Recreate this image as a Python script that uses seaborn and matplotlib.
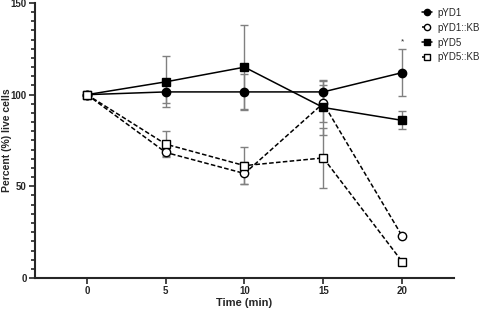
import matplotlib
matplotlib.use("Agg")
import matplotlib.pyplot as plt
import seaborn as sns
import pandas as pd
import numpy as np
from matplotlib.ticker import MultipleLocator
from matplotlib.lines import Line2D

time = [0, 5, 10, 15, 20]
series_names = ["pYD1", "pYD1::KB", "pYD5", "pYD5::KB"]
pYD1 = [100, 101.5, 101.5, 101.5, 112]
pYD1_err = [0, 6, 10, 6, 13]
pYD1_KB = [100, 68.5, 57, 95.3, 23]
pYD1_KB_err = [0, 2, 6, 10, 0]
pYD5 = [100, 107, 115, 93, 86]
pYD5_err = [0, 14, 23, 15, 5]
pYD5_KB = [100, 73, 61.3, 65.5, 9]
pYD5_KB_err = [0, 7, 10, 16.5, 0]

values = [pYD1, pYD1_KB, pYD5, pYD5_KB]
errors = [pYD1_err, pYD1_KB_err, pYD5_err, pYD5_KB_err]

rows = []
for name, vals in zip(series_names, values):
    for t, v in zip(time, vals):
        rows.append({"Time": t, "Value": v, "Series": name})
df = pd.DataFrame(rows)

sns.set_style("ticks")
plt.rcParams["font.family"] = ["Liberation Sans", "DejaVu Sans"]

fig = plt.figure(figsize=(4.84, 3.11), dpi=100)
ax = fig.add_axes([35/484, 1-278/311, (454-35)/484, 275/311])

styles = {
    "pYD1": dict(marker="o", mfc="black", ls="-"),
    "pYD1::KB": dict(marker="o", mfc="white", ls="--"),
    "pYD5": dict(marker="s", mfc="black", ls="-"),
    "pYD5::KB": dict(marker="s", mfc="white", ls="--"),
}

# error bars
for name, vals, errs in zip(series_names, values, errors):
    ax.errorbar(time, vals, yerr=errs, fmt="none", ecolor="#808080",
                elinewidth=1.0, capsize=3, capthick=1.0, zorder=1)

for name in series_names:
    st = styles[name]
    sub = df[df["Series"] == name]
    sns.lineplot(data=sub, x="Time", y="Value", ax=ax, color="black",
                 linewidth=1.1, marker=st["marker"],
                 markersize=6, markerfacecolor=st["mfc"], markeredgecolor="black",
                 markeredgewidth=1.0, zorder=3, legend=False)
    if st["ls"] == "--":
        ax.lines[-1].set_linestyle((0, (3, 1.5)))

ax.set_xlim(-3.3, 23.3)
ax.set_ylim(0, 150)
ax.set_xticks(time)
ax.yaxis.set_major_locator(MultipleLocator(50))
ax.yaxis.set_minor_locator(MultipleLocator(5))
ax.tick_params(axis="both", which="major", length=4, width=1.2, labelsize=7, pad=2)
ax.tick_params(axis="y", which="minor", length=3, width=1.2)
for lab in ax.get_xticklabels() + ax.get_yticklabels():
    lab.set_fontweight("bold")
for sp in ["left", "bottom"]:
    ax.spines[sp].set_linewidth(1.5)
sns.despine(ax=ax)

ax.set_xlabel("Time (min)", fontsize=8, fontweight="bold", labelpad=1)
ax.set_ylabel("Percent (%) live cells", fontsize=7.5, fontweight="bold")
ax.yaxis.set_label_coords(-23/419, 0.5)

ax.text(20, 124.7 + 2, "*", ha="center", va="bottom", fontsize=6)

handles = []
for name in series_names:
    st = styles[name]
    handles.append(Line2D([0], [0], color="black", linewidth=1.1,
                          linestyle=st["ls"] if st["ls"] == "-" else (0, (2, 1.5)),
                          marker=st["marker"], markersize=4.5,
                          markerfacecolor=st["mfc"], markeredgecolor="black"))
fig.legend(handles, series_names, loc="upper left", bbox_to_anchor=(418/484, 1 - 4/311),
           frameon=False, fontsize=7, handlelength=1.0, handletextpad=0.6,
           labelspacing=0.5, borderaxespad=0)

fig.savefig("out.png", dpi=100)
